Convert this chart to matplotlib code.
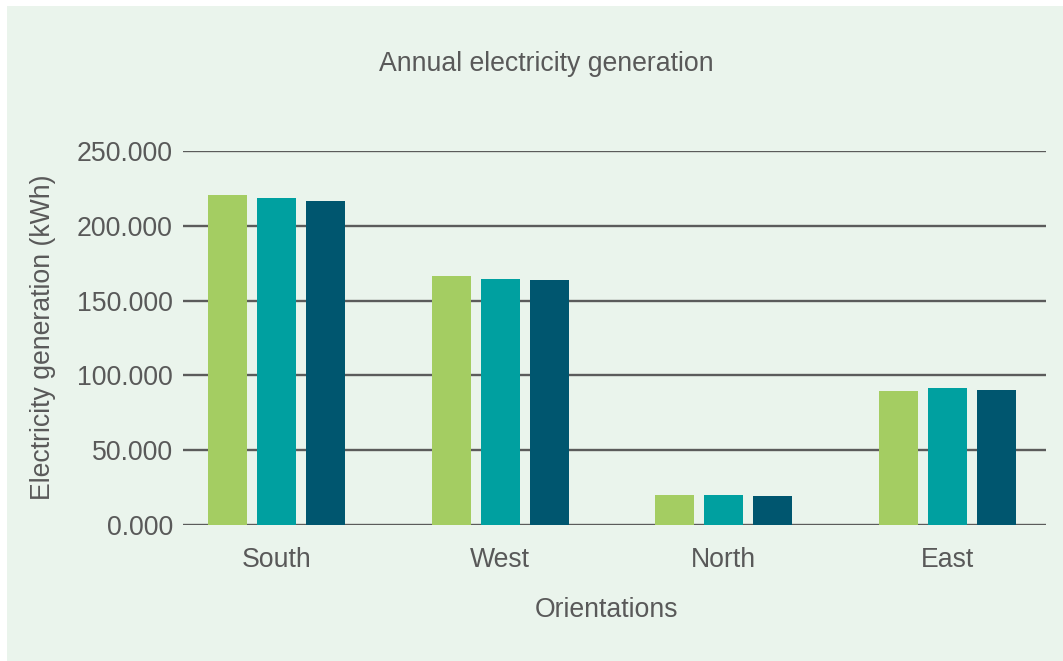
import matplotlib.pyplot as plt
import numpy as np
from matplotlib.patches import Rectangle
from matplotlib.ticker import FormatStrFormatter

plt.rcParams['font.family'] = ['Liberation Sans', 'DejaVu Sans']

# data (kWh)
orientations = ['South', 'West', 'North', 'East']
series_a = [220.6, 166.4, 20.1, 89.6]
series_b = [218.6, 164.4, 20.1, 91.6]
series_c = [216.6, 163.8, 19.4, 90.2]
yticks = [0, 50, 100, 150, 200, 250]

colors = ['#a4cd62', '#00a0a0', '#00566f']
text_col = '#595959'
bg = '#eaf4ec'

W, H = 1063, 661
fig = plt.figure(figsize=(W / 100, H / 100), dpi=100, facecolor='white')
fig.patches.append(Rectangle((7 / W, 0), 1 - 7 / W, 1 - 6 / H,
                             transform=fig.transFigure, facecolor=bg,
                             edgecolor='none', zorder=-5))

ax = fig.add_axes([183 / W, 1 - 525 / H, (1046 - 183) / W, (525 - 151) / H])
ax.set_facecolor('none')

x = np.arange(len(orientations))
width = 0.1745
step = 0.219
for i, vals in enumerate([series_a, series_b, series_c]):
    ax.bar(x + (i - 1) * step, vals, width, color=colors[i], zorder=3)

ax.set_xlim(-0.418, 3.44)
ax.set_ylim(0, 250)
ax.set_yticks(yticks)
ax.yaxis.set_major_formatter(FormatStrFormatter('%.3f'))
ax.set_xticks(x)
ax.set_xticklabels(orientations)

ax.grid(axis='y', color='#5b5b5b', linewidth=1.7, zorder=1)
ax.set_axisbelow(True)
for s in ax.spines.values():
    s.set_visible(False)
ax.tick_params(length=0, labelsize=19.2, labelcolor=text_col)
ax.tick_params(axis='y', pad=7.2)
ax.tick_params(axis='x', pad=15.5)

fig.text(546 / W, 1 - 64 / H, 'Annual electricity generation', ha='center',
         va='center', fontsize=19.2, color=text_col)
fig.text(606 / W, 1 - 610 / H, 'Orientations', ha='center', va='center',
         fontsize=19.2, color=text_col)
fig.text(43 / W, 1 - 337 / H, 'Electricity generation (kWh)', ha='center',
         va='center', rotation=90, fontsize=19.2, color=text_col)

fig.savefig('out.png', dpi=100, facecolor=fig.get_facecolor())
